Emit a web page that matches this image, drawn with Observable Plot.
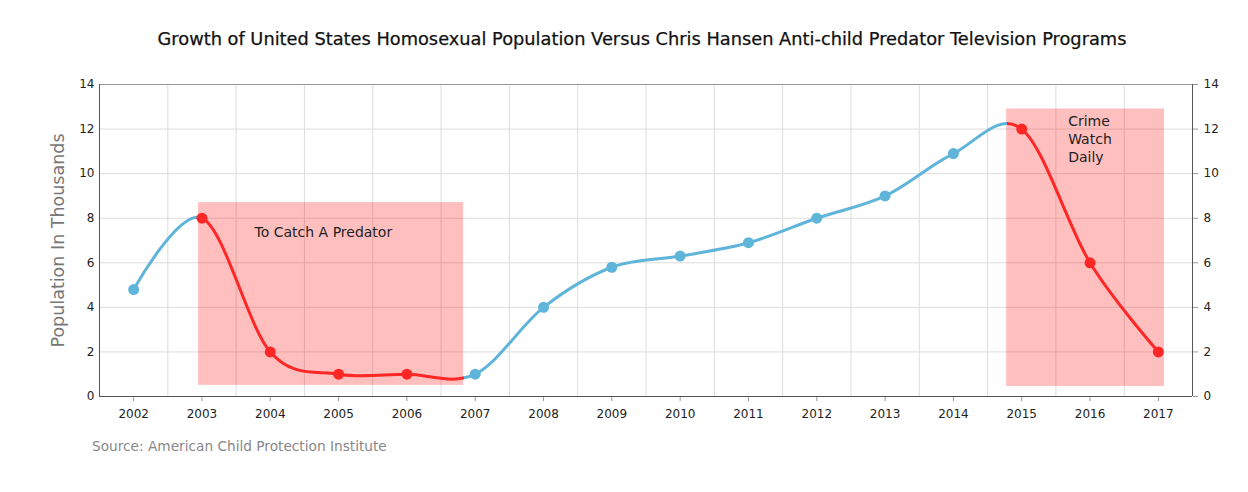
<!DOCTYPE html>
<html>
<head>
<meta charset="utf-8">
<script src="https://cdn.jsdelivr.net/npm/d3@7"></script>
<script src="https://cdn.jsdelivr.net/npm/@observablehq/plot@0.6"></script>
<style>
  html, body { margin: 0; padding: 0; background: #fff; }
  body { width: 1248px; height: 492px; overflow: hidden; font-family: "DejaVu Sans", sans-serif; }
  #title { height: 70px; line-height: 78px; text-align: center; font-size: 17.8px; color: #111; padding-left: 36px; box-sizing: border-box; -webkit-text-stroke: 0.25px #111; }
  #chart svg { display: block; }
  #caption { margin-left: 92px; font-size: 13.7px; color: #888; margin-top: 2px; }
</style>
</head>
<body>
<div id="title">Growth of United States Homosexual Population Versus Chris Hansen Anti-child Predator Television Programs</div>
<div id="chart"></div>
<div id="caption">Source: American Child Protection Institute</div>
<script>
const years = [2002, 2003, 2004, 2005, 2006, 2007, 2008, 2009, 2010, 2011, 2012, 2013, 2014, 2015, 2016, 2017];
const population = [4.8, 8.0, 2.0, 1.0, 1.0, 1.0, 4.0, 5.8, 6.3, 6.9, 8.0, 9.0, 10.9, 12.0, 6.0, 2.0];
const programNames = ["To Catch A Predator", "Crime\nWatch\nDaily"];
const programStart = [2002.95, 2014.78];
const programEnd = [2006.83, 2017.09];
const programTop = [8.7, 12.9];
const programBottom = [0.5, 0.45];
const labelX = [2003.77, 2015.68];
const labelY = [7.4, 11.6];
const yTicks = [0, 2, 4, 6, 8, 10, 12, 14];
const xDomain = [2001.5, 2017.5];

const BLUE = "#5fb4da";
const RED = "#ff2626";

const data = years.map((year, i) => ({year, value: population[i]}));
const programs = programNames.map((name, i) => ({
  name, start: programStart[i], end: programEnd[i], top: programTop[i], bottom: programBottom[i],
  lx: labelX[i], ly: labelY[i]
}));
const inProgram = (y) => programs.some(p => y >= p.start && y <= p.end);
const halfYears = years.slice(0, -1).map(y => y + 0.5);

const chart = Plot.plot({
  width: 1248,
  height: 366,
  marginTop: 14,
  marginLeft: 99,
  marginRight: 56,
  marginBottom: 40,
  style: {fontFamily: "DejaVu Sans, sans-serif", fontSize: "12px", color: "#333", background: "#fff"},
  x: {domain: xDomain},
  y: {domain: [0, 14]},
  marks: [
    Plot.ruleX(halfYears, {stroke: "#ddd", strokeWidth: 1}),
    Plot.ruleY(yTicks.filter(t => t > 0 && t < 14), {stroke: "#ddd", strokeWidth: 1}),
    Plot.ruleY([14], {stroke: "#999", strokeWidth: 1}),
    Plot.rect(programs, {x1: "start", x2: "end", y1: "bottom", y2: "top", fill: "#ff0000", fillOpacity: 0.25}),
    Plot.axisX({ticks: years, tickFormat: "d", tickSize: 5, tickPadding: 8, stroke: "#999", fontSize: 12, label: null, color: "#222"}),
    Plot.axisY({anchor: "left", ticks: yTicks, tickSize: 0, tickPadding: 5, label: null, fontSize: 12, color: "#222"}),
    Plot.axisY({anchor: "right", ticks: yTicks, tickSize: 5, tickPadding: 6, label: null, fontSize: 12, stroke: "#999", color: "#222"}),
    Plot.ruleX([xDomain[0], xDomain[1]], {stroke: "#555", strokeWidth: 1}),
    Plot.ruleY([0], {stroke: "#555", strokeWidth: 1}),
    Plot.line(data, {x: "year", y: "value", curve: "cardinal", stroke: "url(#seg-gradient)", strokeWidth: 3}),
    Plot.dot(data, {x: "year", y: "value", r: 5.5, fill: d => inProgram(d.year) ? RED : BLUE, stroke: "none"}),
    Plot.text(programs, {x: "lx", y: "ly", text: "name", textAnchor: "start", fontSize: 14, lineHeight: 1.3, fill: "#222"}),
    Plot.text(["Population In Thousands"], {frameAnchor: "left", dx: -41, textAnchor: "middle", rotate: -90, fontSize: 17.5, fill: "#777"})
  ]
});

// build the color gradient along x from the program ranges
const xs = chart.scale("x");
const x0 = xs.apply(xDomain[0]), x1 = xs.apply(xDomain[1]);
const frac = v => (xs.apply(v) - x0) / (x1 - x0);
const ns = "http://www.w3.org/2000/svg";
const defs = document.createElementNS(ns, "defs");
const grad = document.createElementNS(ns, "linearGradient");
grad.setAttribute("id", "seg-gradient");
grad.setAttribute("gradientUnits", "userSpaceOnUse");
grad.setAttribute("x1", x0); grad.setAttribute("x2", x1);
grad.setAttribute("y1", 0); grad.setAttribute("y2", 0);
const stops = [];
stops.push([0, BLUE]);
programs.forEach(p => {
  stops.push([frac(p.start), BLUE]);
  stops.push([frac(p.start), RED]);
  stops.push([frac(p.end), RED]);
  stops.push([frac(p.end), BLUE]);
});
stops.push([1, BLUE]);
stops.forEach(([o, c]) => {
  const s = document.createElementNS(ns, "stop");
  s.setAttribute("offset", Math.max(0, Math.min(1, o)));
  s.setAttribute("stop-color", c);
  grad.appendChild(s);
});
defs.appendChild(grad);
chart.insertBefore(defs, chart.firstChild);
document.getElementById("chart").appendChild(chart);
</script>
</body>
</html>
